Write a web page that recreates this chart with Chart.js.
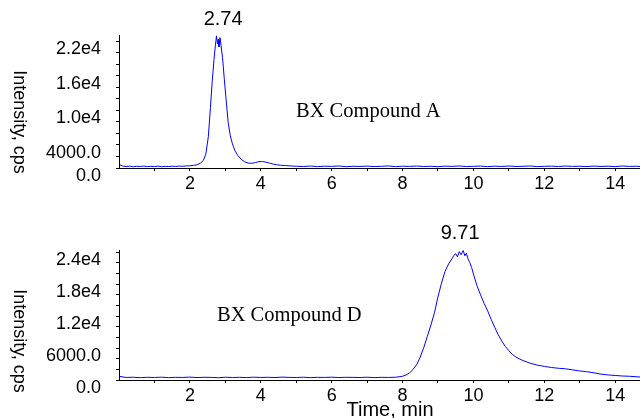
<!DOCTYPE html>
<html>
<head>
<meta charset="utf-8">
<script src="https://cdn.jsdelivr.net/npm/chart.js@4.4.1/dist/chart.umd.min.js"></script>
<style>
  body { margin: 0; background: #fff; }
  #wrap { position: relative; width: 640px; height: 418px; overflow: hidden; }
  canvas { position: absolute; left: 0; }
</style>
</head>
<body>
<div id="wrap">
  <canvas id="chartA" width="640" height="200" style="top:0"></canvas>
  <canvas id="chartD" width="640" height="218" style="top:200px"></canvas>
</div>
<script>
// BX Compound A trace (time in min, intensity in cps)
const timeA = [
  0.0, 0.1, 0.2, 0.3, 0.4, 0.5, 0.6, 0.7, 0.8, 0.9, 1.0, 1.1, 1.2, 1.3, 1.4, 1.5, 1.6, 1.7, 1.8, 1.9, 2.0,
  2.1, 2.2, 2.3, 2.38, 2.45, 2.52, 2.58, 2.63, 2.68, 2.72, 2.75, 2.78, 2.80, 2.82, 2.85, 2.88, 2.92, 2.97,
  3.02, 3.08, 3.14, 3.20, 3.27, 3.35, 3.45, 3.55, 3.65, 3.75, 3.85, 3.95, 4.05, 4.15, 4.25, 4.35, 4.45,
  4.55, 4.7, 4.85,
  5.0, 5.2, 5.4, 5.6, 5.8, 6.0, 6.2, 6.4, 6.6, 6.8, 7.0, 7.2, 7.4, 7.6, 7.8, 8.0, 8.2, 8.4, 8.6, 8.8,
  9.0, 9.2, 9.4, 9.6, 9.8, 10.0, 10.2, 10.4, 10.6, 10.8, 11.0, 11.2, 11.4, 11.6, 11.8, 12.0, 12.2, 12.4,
  12.6, 12.8, 13.0, 13.2, 13.4, 13.6, 13.8, 14.0, 14.2, 14.4, 14.6, 14.7
];
const intensityA = [
  600, 350, 250, 320, 220, 300, 260, 330, 240, 290, 250, 320, 230, 280, 260, 310, 270, 330, 300, 360, 380,
  450, 560, 850, 1300, 2400, 5400, 10500, 15000, 18800, 21200, 22900, 21500, 22300, 21000, 22600, 21200, 19200, 15500,
  12000, 7900, 5600, 4200, 3000, 2200, 1500, 1050, 850, 820, 950, 1100, 1120, 1000, 850, 680, 560,
  480, 420, 360,
  300, 260, 340, 240, 310, 280, 350, 230, 300, 270, 330, 250, 290, 360, 240, 310, 280, 340, 260, 300,
  230, 320, 280, 350, 250, 290, 330, 240, 310, 270, 340, 260, 300, 350, 240, 290, 320, 260,
  340, 280, 300, 250, 330, 270, 310, 240, 350, 280, 300, 260
];

// BX Compound D trace
const timeD = [
  0.0, 0.2, 0.4, 0.6, 0.8, 1.0, 1.2, 1.4, 1.6, 1.8, 2.0, 2.2, 2.4, 2.6, 2.8, 3.0, 3.2, 3.4, 3.6, 3.8,
  4.0, 4.2, 4.4, 4.6, 4.8, 5.0, 5.2, 5.4, 5.6, 5.8, 6.0, 6.2, 6.4, 6.6, 6.8, 7.0, 7.2, 7.4, 7.6, 7.8,
  7.9, 8.0, 8.1, 8.2, 8.3, 8.4, 8.5, 8.6, 8.7, 8.8, 8.9, 9.0, 9.1, 9.2, 9.3, 9.4, 9.45, 9.5, 9.55, 9.6,
  9.65, 9.71, 9.76, 9.8, 9.85, 9.9, 9.95, 10.0, 10.1, 10.2, 10.3, 10.4, 10.5, 10.6, 10.7, 10.8, 10.9,
  11.0, 11.1, 11.2, 11.3, 11.4, 11.6, 11.8, 12.0, 12.2, 12.4, 12.6, 12.8, 13.0, 13.2, 13.4, 13.6, 13.8,
  14.0, 14.2, 14.4, 14.7
];
const intensityD = [
  700, 480, 520, 440, 510, 470, 530, 450, 500, 480, 540, 460, 510, 490, 430, 520, 470, 500, 450, 530,
  480, 510, 460, 540, 490, 470, 520, 450, 500, 480, 530, 460, 510, 490, 470, 520, 450, 500, 480, 520,
  600, 700, 950, 1350, 2000, 2900, 4300, 6100, 8200, 10300, 12600, 15600, 18200, 20400, 21800, 22800, 23400, 23700, 23100, 24100,
  23500, 24300, 23300, 23800, 22700, 22000, 21100, 19900, 17700, 16000, 14400, 13000, 11400, 9900, 8500, 7300, 6300,
  5500, 4800, 4300, 3950, 3650, 3150, 2800, 2550, 2350, 2200, 2100, 1900, 1700, 1550, 1350, 1100, 950,
  850, 750, 700, 560
];

const xTicks = [1, 2, 3, 4, 5, 6, 7, 8, 9, 10, 11, 12, 13, 14];
const xLabelTicks = [2, 4, 6, 8, 10, 12, 14];
const yTicksA = [0, 2000, 4000, 6000, 8000, 10000, 12000, 14000, 16000, 18000, 20000, 22000];
const yLabelTicksA = [0, 4000, 10000, 16000, 22000];
const yTicksD = [0, 2000, 4000, 6000, 8000, 10000, 12000, 14000, 16000, 18000, 20000, 22000, 24000];
const yLabelTicksD = [0, 6000, 12000, 18000, 24000];

Chart.defaults.font.family = '"Liberation Sans", Arial, sans-serif';
Chart.defaults.color = '#000';

function fmtIntensity(v) {
  if (v >= 10000) return (v / 10000).toFixed(1) + 'e4';
  return v.toFixed(1);
}

// draws peak label, compound name and axis titles
const chromText = {
  id: 'chromText',
  afterDraw(chart, args, o) {
    const ctx = chart.ctx;
    const xs = chart.scales.x;
    ctx.save();
    ctx.fillStyle = '#000';
    ctx.textBaseline = 'alphabetic';
    ctx.textAlign = 'center';
    ctx.font = '20px "Liberation Sans", Arial, sans-serif';
    ctx.fillText(o.peakText, xs.getPixelForValue(o.peakTime) + o.peakDx, o.peakY);

    ctx.textAlign = 'left';
    ctx.font = '20.5px "Liberation Serif", "Times New Roman", serif';
    ctx.fillText(o.name, o.nameX, o.nameY);

    ctx.save();
    ctx.translate(19, o.yTitleY);
    ctx.rotate(Math.PI / 2);
    ctx.textAlign = 'center';
    ctx.textBaseline = 'middle';
    ctx.font = '18px "Liberation Sans", Arial, sans-serif';
    ctx.fillText('Intensity, cps', 0, 0);
    ctx.restore();

    if (o.xTitle) {
      ctx.textAlign = 'center';
      ctx.font = '20px "Liberation Sans", Arial, sans-serif';
      ctx.fillText(o.xTitle, o.xTitleX, o.xTitleY);
    }
    ctx.restore();
  }
};

function makeChart(id, times, values, yMax, yTicks, yLabels, padTop, xHeight, text) {
  return new Chart(document.getElementById(id), {
    type: 'line',
    data: {
      datasets: [{
        data: times.map((t, i) => ({ x: t, y: values[i] })),
        borderColor: '#0000ff',
        borderWidth: 1,
        pointRadius: 0,
        tension: 0
      }]
    },
    options: {
      responsive: false,
      animation: false,
      layout: { padding: { top: padTop, left: 0, right: 0, bottom: 0 } },
      plugins: { legend: { display: false }, tooltip: { enabled: false }, chromText: text },
      scales: {
        x: {
          type: 'linear',
          min: 0,
          max: 14.7,
          afterBuildTicks: s => { s.ticks = xTicks.map(v => ({ value: v })); },
          afterFit: s => { s.height = xHeight; },
          grid: { drawOnChartArea: false, tickLength: 3, color: '#000' },
          border: { color: '#000' },
          ticks: {
            autoSkip: false, maxRotation: 0, padding: 2,
            font: { size: 18 },
            callback: v => xLabelTicks.includes(v) ? String(v) : ''
          }
        },
        y: {
          min: 0,
          max: yMax,
          afterBuildTicks: s => { s.ticks = yTicks.map(v => ({ value: v })); },
          afterFit: s => { s.width = 119; },
          grid: { drawOnChartArea: false, tickLength: 3, color: '#000' },
          border: { color: '#000' },
          ticks: {
            autoSkip: false, padding: 15, labelOffset: 8,
            font: { size: 18 },
            callback: v => yLabels.includes(v) ? fmtIntensity(v) : ''
          }
        }
      }
    },
    plugins: [chromText]
  });
}

makeChart('chartA', timeA, intensityA, 23050, yTicksA, yLabelTicksA, 35, 32, {
  peakText: '2.74', peakTime: 2.74, peakDx: 7, peakY: 25,
  name: 'BX Compound A', nameX: 296, nameY: 117,
  yTitleY: 122
});

makeChart('chartD', timeD, intensityD, 24400, yTicksD, yLabelTicksD, 50, 38, {
  peakText: '9.71', peakTime: 9.71, peakDx: -3, peakY: 39,
  name: 'BX Compound D', nameX: 217, nameY: 121,
  yTitleY: 141,
  xTitle: 'Time, min', xTitleX: 390, xTitleY: 216
});
</script>
</body>
</html>
